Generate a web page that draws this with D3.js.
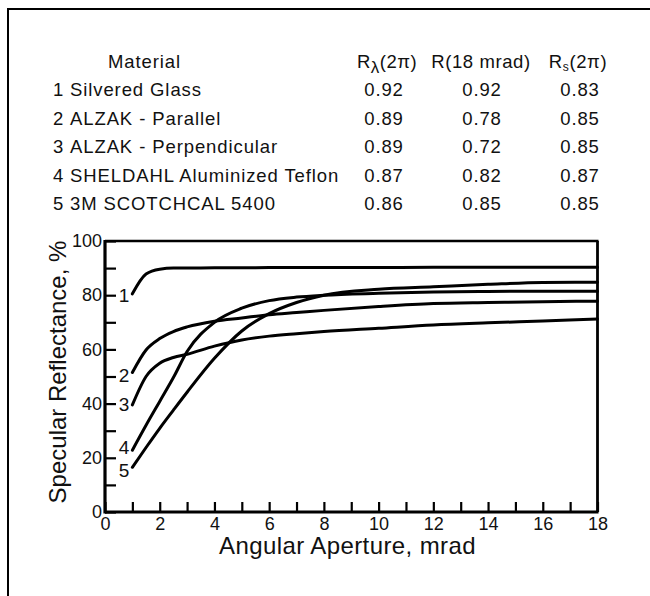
<!DOCTYPE html>
<html>
<head>
<meta charset="utf-8">
<script src="https://cdn.jsdelivr.net/npm/d3@7"></script>
<style>
body { margin: 0; background: #fff; }
svg { display: block; font-family: 'Liberation Sans', Arial, Helvetica, sans-serif; }
</style>
</head>
<body>
<div id="chart"></div>
<script>
// table
var materials = ['Silvered Glass', 'ALZAK - Parallel', 'ALZAK - Perpendicular', 'SHELDAHL Aluminized Teflon', '3M SCOTCHCAL 5400'];
var rLambda = ['0.92', '0.89', '0.89', '0.87', '0.86'];
var r18 = ['0.92', '0.78', '0.72', '0.82', '0.85'];
var rSolar = ['0.83', '0.85', '0.85', '0.87', '0.85'];

// curves (angular aperture, mrad -> specular reflectance, %)
var aperture = [1, 1.5, 2, 2.5, 3, 4, 5, 6, 7, 8, 10, 12, 14, 16, 18];
var curve1 = [80.5, 87.8, 89.6, 90, 90, 90.1, 90.1, 90.2, 90.2, 90.2, 90.2, 90.3, 90.3, 90.3, 90.3];
var curve2 = [51.5, 59.8, 64, 66.6, 68.3, 70.4, 71.6, 72.8, 73.6, 74.4, 75.8, 76.9, 77.3, 77.6, 77.8];
var curve3 = [39.5, 50, 54.9, 57, 58.2, 61.2, 63.5, 64.9, 65.8, 66.6, 67.8, 69, 69.8, 70.5, 71.2];
var curve4 = [22.8, 32, 40.8, 49.6, 59.2, 70, 75.2, 78, 79.3, 80, 80.7, 81.2, 81.4, 81.5, 81.5];
var curve5 = [16.5, 23.8, 30.9, 37.6, 44.2, 56.7, 66.8, 73.2, 77.3, 80, 82.2, 83.1, 84, 84.7, 84.8];
var curveLabels = ['1', '2', '3', '4', '5'];
var curveLabelAt = [80, 50.5, 39.7, 24, 15.5];

var xTicks = [0, 1, 2, 3, 4, 5, 6, 7, 8, 9, 10, 11, 12, 13, 14, 15, 16, 17, 18];
var xTickLabels = [0, 2, 4, 6, 8, 10, 12, 14, 16, 18];
var yTicks = [0, 10, 20, 30, 40, 50, 60, 70, 80, 90, 100];
var yTickLabels = [0, 20, 40, 60, 80, 100];

var width = 650;
var height = 596;
var plot = { left: 105, right: 597.5, top: 241, bottom: 512 };

var svg = d3.select('#chart')
	.append('svg')
	.attr('width', width)
	.attr('height', height);

// outer frame (left and top only visible)
svg.append('path')
	.attr('d', 'M8,' + height + 'V9H' + width)
	.attr('fill', 'none')
	.attr('stroke', '#000')
	.attr('stroke-width', 2);

// table
var table = svg.append('g')
	.attr('font-size', 18.5)
	.attr('letter-spacing', 0.9)
	.attr('fill', '#111');

var headerY = 68;
var rowY = [96, 124.5, 153, 181.5, 210];
var colX = [384, 482, 580];

table.append('text')
	.attr('x', 108)
	.attr('y', headerY)
	.text('Material');

var h1 = table.append('text')
	.attr('x', 387)
	.attr('y', headerY)
	.attr('letter-spacing', 0.5)
	.attr('text-anchor', 'middle');
h1.append('tspan').text('R');
h1.append('tspan').attr('dy', 5).attr('font-size', 17).text('\u03bb');
h1.append('tspan').attr('dy', -5).text('(2\u03c0)');

table.append('text')
	.attr('x', 481)
	.attr('y', headerY)
	.attr('letter-spacing', 0.6)
	.attr('text-anchor', 'middle')
	.text('R(18 mrad)');

var h3 = table.append('text')
	.attr('x', 578)
	.attr('y', headerY)
	.attr('letter-spacing', 0.6)
	.attr('text-anchor', 'middle');
h3.append('tspan').text('R');
h3.append('tspan').attr('dy', 3).attr('font-size', 12).text('s');
h3.append('tspan').attr('dy', -3).text('(2\u03c0)');

materials.forEach(function(m, i) {
	table.append('text')
		.attr('x', 53)
		.attr('y', rowY[i])
		.text(curveLabels[i]);

	table.append('text')
		.attr('x', 70)
		.attr('y', rowY[i])
		.text(m);

	[rLambda, r18, rSolar].forEach(function(col, j) {
		table.append('text')
			.attr('x', colX[j])
			.attr('y', rowY[i])
			.attr('text-anchor', 'middle')
			.text(col[i]);
	});
});

// scales
var x = d3.scaleLinear()
	.domain([0, 18])
	.range([plot.left, plot.right]);

var y = d3.scaleLinear()
	.domain([0, 100])
	.range([plot.bottom, plot.top]);

// axes with inward ticks
var xAxis = svg.append('g')
	.attr('transform', 'translate(0,' + plot.bottom + ')')
	.call(d3.axisBottom(x)
		.tickValues(xTicks)
		.tickSizeInner(-10)
		.tickSizeOuter(0)
		.tickPadding(5)
		.tickFormat(function(d) {
			return xTickLabels.indexOf(d) > -1 ? d : '';
		}));

var yAxis = svg.append('g')
	.attr('transform', 'translate(' + plot.left + ',0)')
	.call(d3.axisLeft(y)
		.tickValues(yTicks)
		.tickSizeInner(-11)
		.tickSizeOuter(0)
		.tickPadding(3)
		.tickFormat(function(d) {
			return yTickLabels.indexOf(d) > -1 ? d : '';
		}));

[xAxis, yAxis].forEach(function(ax) {
	ax.attr('font-family', null).attr('font-size', null);
	ax.select('.domain').remove();
	ax.selectAll('.tick line')
		.attr('stroke', '#000')
		.attr('stroke-width', 2.2);
	ax.selectAll('.tick text')
		.attr('fill', '#111')
		.attr('font-size', 18);
});

// plot frame
var frame = svg.append('g')
	.attr('stroke', '#000')
	.attr('fill', 'none');

frame.append('line')
	.attr('x1', plot.left).attr('x2', plot.left)
	.attr('y1', plot.top - 1).attr('y2', plot.bottom + 1.5)
	.attr('stroke-width', 3.2);
frame.append('line')
	.attr('x1', plot.left).attr('x2', plot.right + 1)
	.attr('y1', plot.bottom).attr('y2', plot.bottom)
	.attr('stroke-width', 3.2);
frame.append('line')
	.attr('x1', plot.left).attr('x2', plot.right + 1)
	.attr('y1', plot.top).attr('y2', plot.top)
	.attr('stroke-width', 2.6);
frame.append('line')
	.attr('x1', plot.right).attr('x2', plot.right)
	.attr('y1', plot.top).attr('y2', plot.bottom)
	.attr('stroke-width', 2.8);

// curves
var series = [curve1, curve2, curve3, curve4, curve5];

var line = d3.line()
	.x(function(d, i) { return x(aperture[i]); })
	.y(function(d) { return y(d); })
	.curve(d3.curveMonotoneX);

svg.append('g')
	.selectAll('path')
	.data(series)
	.enter()
	.append('path')
	.attr('d', line)
	.attr('fill', 'none')
	.attr('stroke', '#000')
	.attr('stroke-width', 3)
	.attr('stroke-linecap', 'round');

svg.append('g')
	.selectAll('text')
	.data(curveLabelAt)
	.enter()
	.append('text')
	.attr('x', x(aperture[0]) - 3)
	.attr('y', function(d) { return y(d); })
	.attr('dy', '0.36em')
	.attr('text-anchor', 'end')
	.attr('font-size', 19)
	.attr('fill', '#111')
	.text(function(d, i) { return curveLabels[i]; });

// axis titles
svg.append('text')
	.attr('x', 347.5)
	.attr('y', 554)
	.attr('text-anchor', 'middle')
	.attr('font-size', 24)
	.attr('letter-spacing', 0.4)
	.attr('fill', '#111')
	.text('Angular Aperture, mrad');

svg.append('text')
	.attr('transform', 'translate(66,372) rotate(-90)')
	.attr('text-anchor', 'middle')
	.attr('font-size', 24)
	.attr('fill', '#111')
	.text('Specular Reflectance, %');
</script>
</body>
</html>
